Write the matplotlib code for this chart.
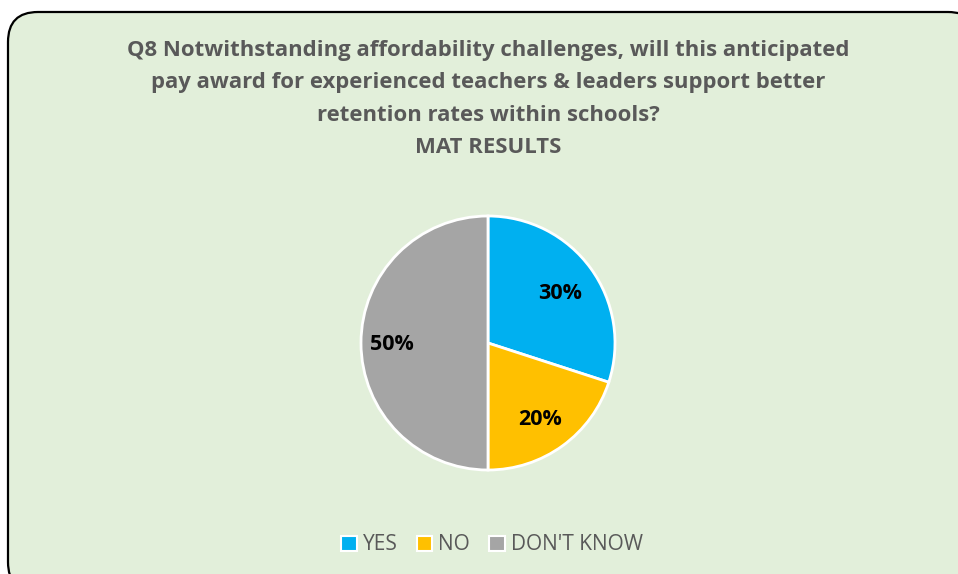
import matplotlib.pyplot as plt
from matplotlib.patches import FancyBboxPatch, Patch

# Survey answers
labels = ["YES", "NO", "DON'T KNOW"]
values = [30, 20, 50]
colors = ["#00B0F0", "#FFC000", "#A5A5A5"]

title = ("Q8 Notwithstanding affordability challenges, will this anticipated\n"
         "pay award for experienced teachers & leaders support better\n"
         "retention rates within schools?\n"
         "MAT RESULTS")

W, H = 958, 574
fig = plt.figure(figsize=(W / 100, H / 100), dpi=100)
fig.patch.set_facecolor("white")

# background panel in pixel units
bg = fig.add_axes([0, 0, 1, 1])
bg.set_xlim(0, W)
bg.set_ylim(H, 0)
bg.axis("off")
panel = FancyBboxPatch((8, 12), 970, 580, boxstyle="round,pad=0,rounding_size=30",
                       facecolor="#E2EFDA", edgecolor="black", linewidth=1.6)
bg.add_patch(panel)

font = "Open Sans"
bg.text(488, 99, title, ha="center", va="center", fontsize=15.9, fontweight="bold",
        color="#595959", family=font, linespacing=1.72)

# pie
r = 127
cx, cy = 488, 343
ax = fig.add_axes([(cx - r) / W, (H - cy - r) / H, 2 * r / W, 2 * r / H])
wedges, texts = ax.pie(values, colors=colors, startangle=90, counterclock=False,
                       wedgeprops=dict(edgecolor="white", linewidth=2))
ax.set_xlim(-1, 1)
ax.set_ylim(-1, 1)
ax.set_aspect("auto")

label_pos = [(0.57, 0.39), (0.41, -0.60), (-0.76, -0.01)]
for v, (x, y) in zip(values, label_pos):
    ax.text(x, y, f"{v}%", ha="center", va="center", fontsize=15.5,
            fontweight="bold", color="black", family=font)

handles = [Patch(facecolor=c, edgecolor="white", linewidth=1.5) for c in colors]
leg = fig.legend(handles, labels, loc="center", bbox_to_anchor=(492 / W, 1 - 545 / H),
                 ncol=3, frameon=False, handlelength=0.75, handleheight=0.75,
                 handletextpad=0.3, columnspacing=0.9,
                 prop={"family": font, "size": 15})
for t in leg.get_texts():
    t.set_color("#595959")

fig.savefig("out.png", dpi=100)
